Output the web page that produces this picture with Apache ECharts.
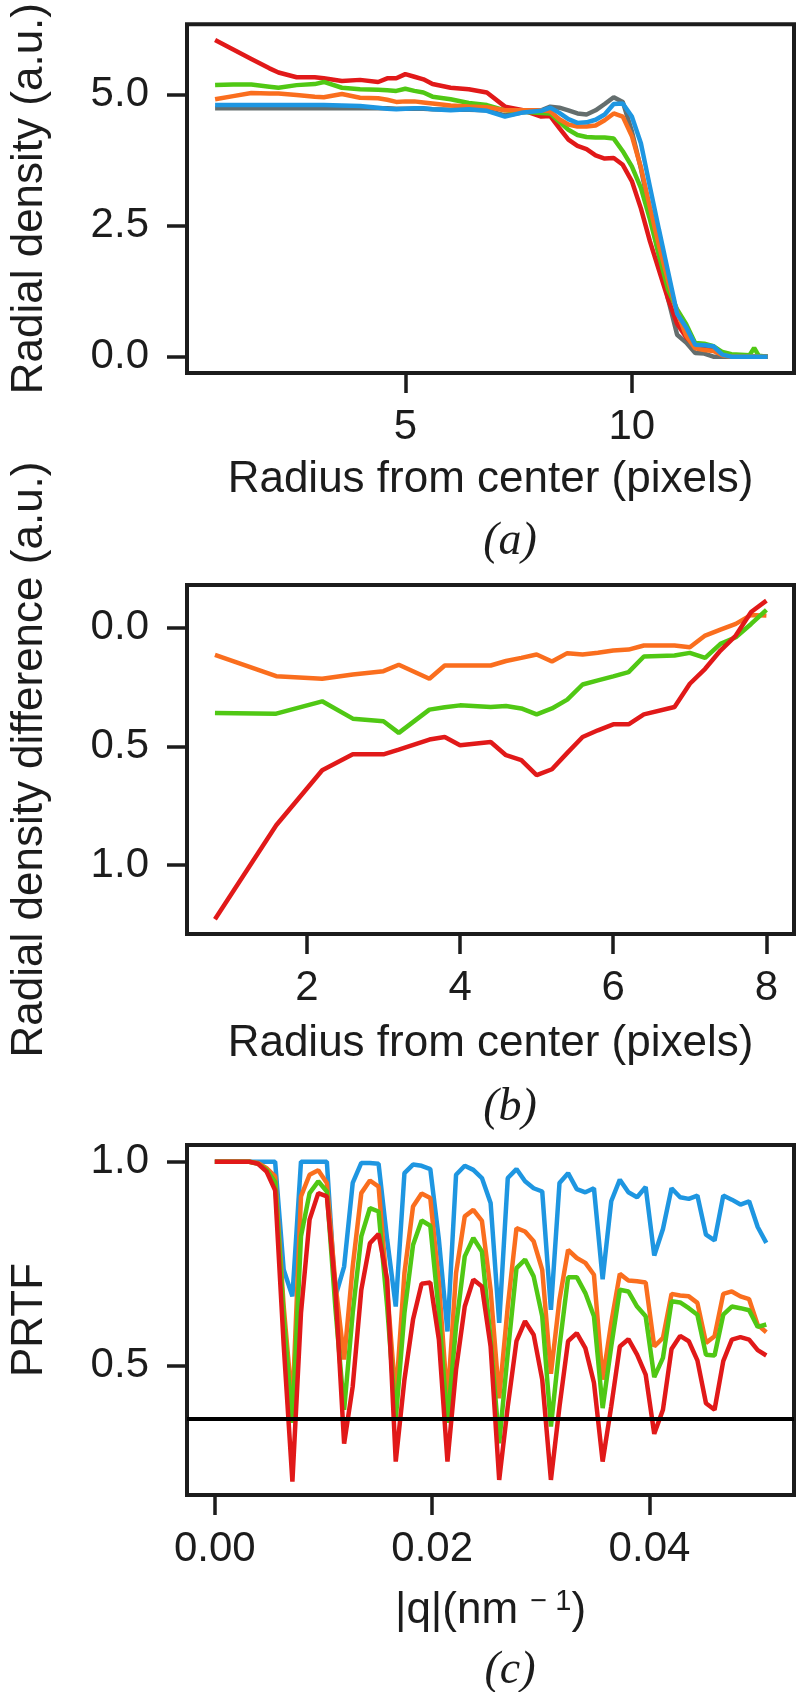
<!DOCTYPE html>
<html>
<head>
<meta charset="utf-8">
<script src="https://cdn.jsdelivr.net/npm/echarts@6/dist/echarts.min.js"></script>
<style>
html,body{margin:0;padding:0;background:#fff;}
#chart{width:798px;height:1692px;}
</style>
</head>
<body>
<div id="chart"></div>
<script>
// ---------- Panel (a): radial density ----------
const aX = [0.8,1.2,1.6,2.0,2.2,2.6,3.0,3.2,3.6,4.0,4.4,4.6,4.8,5.0,5.2,5.4,5.6,6.0,6.4,6.8,7.2,7.6,8.0,8.2,8.4,8.6,8.8,9.0,9.2,9.4,9.6,9.8,10.0,10.2,10.4,10.6,10.8,11.0,11.2,11.4,11.6,11.8,12.0,12.2,12.4,12.6,12.7,12.8,13.0];
const aGray   = [4.74,4.74,4.74,4.74,4.74,4.74,4.74,4.74,4.74,4.74,4.74,4.74,4.73,4.73,4.73,4.73,4.72,4.71,4.71,4.70,4.60,4.66,4.70,4.77,4.75,4.70,4.64,4.62,4.70,4.82,4.95,4.86,4.30,3.59,2.76,1.93,1.10,0.42,0.27,0.07,0.06,0.00,0.00,0.00,0.00,0.00,0.00,0.00,0.00];
const aOrange = [4.91,4.97,5.03,5.02,5.02,4.99,4.96,4.95,5.01,4.94,4.93,4.90,4.86,4.87,4.87,4.85,4.83,4.79,4.77,4.76,4.70,4.70,4.70,4.68,4.53,4.43,4.39,4.39,4.41,4.51,4.64,4.58,4.21,3.61,2.85,2.12,1.45,0.85,0.40,0.16,0.13,0.11,0.03,0.00,0.00,0.00,0.00,0.00,0.00];
const aGreen  = [5.18,5.19,5.19,5.15,5.13,5.18,5.20,5.24,5.13,5.10,5.09,5.08,5.07,5.11,5.07,5.04,4.96,4.91,4.84,4.80,4.70,4.67,4.65,4.64,4.48,4.33,4.23,4.19,4.18,4.18,4.16,3.92,3.63,3.22,2.62,1.93,1.28,0.90,0.62,0.26,0.25,0.20,0.09,0.05,0.04,0.03,0.17,0.02,0.00];
const aRed    = [6.04,5.86,5.68,5.50,5.42,5.33,5.33,5.31,5.26,5.28,5.24,5.31,5.31,5.39,5.34,5.29,5.20,5.13,5.10,5.04,4.77,4.70,4.58,4.59,4.36,4.14,4.02,3.96,3.84,3.78,3.79,3.66,3.35,2.83,2.20,1.65,1.10,0.63,0.37,0.21,0.19,0.17,0.05,0.00,0.00,0.00,0.00,0.00,0.00];
const aBlue   = [4.80,4.80,4.80,4.80,4.80,4.80,4.80,4.80,4.79,4.78,4.75,4.73,4.72,4.73,4.74,4.74,4.72,4.70,4.72,4.69,4.58,4.66,4.69,4.75,4.65,4.53,4.46,4.47,4.52,4.62,4.82,4.83,4.58,4.07,3.24,2.42,1.62,0.82,0.56,0.23,0.22,0.20,0.04,0.00,0.00,0.00,0.00,0.00,0.00];
const aXTicks = [5, 10];
const aYTicks = [0, 2.5, 5];

// ---------- Panel (b): radial density difference ----------
const bX = [0.8,1.6,2.2,2.6,3.0,3.2,3.6,3.8,4.0,4.4,4.6,4.8,5.0,5.2,5.4,5.6,5.8,6.0,6.2,6.4,6.8,7.0,7.2,7.4,7.6,7.8,8.0];
const bOrange = [0.114,0.204,0.215,0.197,0.183,0.156,0.215,0.159,0.159,0.159,0.140,0.127,0.113,0.142,0.107,0.113,0.105,0.096,0.092,0.075,0.075,0.082,0.033,0.008,-0.016,-0.054,-0.051];
const bGreen  = [0.359,0.362,0.310,0.383,0.394,0.443,0.345,0.335,0.327,0.334,0.330,0.340,0.365,0.340,0.303,0.239,0.222,0.205,0.187,0.121,0.117,0.106,0.127,0.068,0.040,-0.016,-0.075];
const bRed    = [1.228,0.832,0.600,0.533,0.533,0.513,0.471,0.460,0.495,0.481,0.537,0.558,0.621,0.596,0.527,0.460,0.432,0.407,0.407,0.365,0.334,0.236,0.173,0.096,0.033,-0.066,-0.114];
const bXTicks = [2, 4, 6, 8];
const bYTicks = [0, 0.5, 1.0];

// ---------- Panel (c): PRTF ----------
const cQ = [0,0.00079,0.00159,0.00238,0.00317,0.00397,0.00476,0.00555,0.00634,0.00714,0.00793,0.00872,0.00952,0.01031,0.0111,0.0119,0.01269,0.01348,0.01427,0.01507,0.01586,0.01665,0.01745,0.01824,0.01903,0.01983,0.02062,0.02141,0.0222,0.023,0.02379,0.02458,0.02538,0.02617,0.02696,0.02776,0.02855,0.02934,0.03013,0.03093,0.03172,0.03251,0.03331,0.0341,0.03489,0.03569,0.03648,0.03727,0.03806,0.03886,0.03965,0.04044,0.04124,0.04203,0.04282,0.04362,0.04441,0.0452,0.04599,0.04679,0.04758,0.04837,0.04917,0.04996,0.05075];
const cBlue   = [1,1,1,1,1,1,1,1,0.735,0.670,1,1,1,1,0.670,0.743,0.948,0.997,0.997,0.995,0.809,0.645,0.972,0.993,0.990,0.982,0.809,0.584,0.968,0.990,0.980,0.960,0.899,0.605,0.960,0.982,0.952,0.935,0.927,0.637,0.948,0.972,0.933,0.925,0.935,0.712,0.903,0.956,0.925,0.913,0.938,0.770,0.835,0.935,0.913,0.909,0.917,0.821,0.807,0.917,0.907,0.895,0.903,0.840,0.801];
const cOrange = [1,1,1,1,1,0.997,0.984,0.964,0.645,0.400,0.915,0.968,0.979,0.948,0.700,0.515,0.743,0.923,0.954,0.939,0.686,0.420,0.727,0.890,0.922,0.911,0.703,0.410,0.727,0.866,0.882,0.855,0.686,0.420,0.645,0.837,0.829,0.805,0.735,0.480,0.662,0.784,0.764,0.752,0.723,0.466,0.605,0.725,0.709,0.707,0.704,0.547,0.568,0.676,0.672,0.670,0.654,0.556,0.572,0.676,0.682,0.670,0.663,0.600,0.582];
const cGreen  = [1,1,1,1,1,0.995,0.980,0.950,0.620,0.360,0.817,0.923,0.952,0.927,0.640,0.392,0.629,0.817,0.886,0.878,0.645,0.368,0.629,0.796,0.856,0.843,0.629,0.360,0.596,0.768,0.813,0.780,0.564,0.310,0.531,0.739,0.760,0.719,0.621,0.351,0.547,0.717,0.717,0.678,0.621,0.396,0.547,0.686,0.682,0.645,0.621,0.472,0.519,0.658,0.655,0.641,0.625,0.527,0.525,0.625,0.645,0.641,0.636,0.595,0.601];
const cRed    = [1,1,1,1,1,0.995,0.976,0.930,0.550,0.216,0.629,0.858,0.923,0.915,0.686,0.309,0.449,0.686,0.800,0.823,0.711,0.265,0.466,0.613,0.701,0.704,0.564,0.265,0.490,0.645,0.711,0.694,0.547,0.220,0.400,0.560,0.609,0.576,0.466,0.220,0.400,0.560,0.580,0.543,0.458,0.265,0.400,0.547,0.565,0.527,0.478,0.333,0.392,0.541,0.573,0.560,0.513,0.408,0.392,0.511,0.564,0.570,0.564,0.538,0.525];
const cThreshold = 0.368;
const cXTicks = [0, 0.02, 0.04];
const cYTicks = [0.5, 1.0];

// ---------- styling ----------
const FONT = '"Liberation Sans", Arial, Helvetica, sans-serif';
const SERIF = 'italic 46px "Liberation Serif", "Times New Roman", serif';
const INK = '#1c1c1c';
const NAME_SIZE = 44;
const LINE_W = 4.5;
const COL = {gray:'#646e6e', blue:'#1e96e1', orange:'#fa6e1e', green:'#50c814', red:'#e11919'};
const zip = (xs, ys) => xs.map((x, i) => [x, ys[i]]);

function grid(top, height) {
  return {left:183, right:4, top:top, height:height, show:true,
          borderColor:INK, borderWidth:4, backgroundColor:'#fff', containLabel:false};
}
function axis(kind, gi, min, max, ticks, fmt, name, gap, extra) {
  const isX = kind === 'x';
  return Object.assign({
    type:'value', gridIndex:gi, min:min, max:max,
    splitLine:{show:false},
    axisLine:{show:false, onZero:false},
    axisTick:{show:true, inside:false, length:20, customValues:ticks,
              lineStyle:{color:INK, width:3.5}},
    axisLabel:{show:true, customValues:ticks, formatter:fmt, margin: isX ? 33 : 38,
               color:INK, fontSize:42, fontFamily:FONT},
    name:name, nameLocation:'middle', nameGap:gap,
    nameTextStyle:{color:INK, fontSize:NAME_SIZE, fontFamily:FONT}
  }, extra || {});
}
function line(name, xi, data, color) {
  return {name:name, type:'line', xAxisIndex:xi, yAxisIndex:xi, data:data,
          showSymbol:false, symbol:'none', animation:false,
          lineStyle:{color:color, width:LINE_W}, itemStyle:{color:color}};
}
function panelTag(text, y) {
  return {type:'text', style:{text:text, font:SERIF, fill:INK,
          textAlign:'center', textVerticalAlign:'middle', x:510, y:y}};
}

const f1 = v => v.toFixed(1);
const f2 = v => v.toFixed(2);
const f0 = v => String(v);

const cRedSeries = line('red', 2, zip(cQ, cRed), COL.red);
cRedSeries.markLine = {
  silent:true, symbol:['none','none'], label:{show:false}, z:10, animation:false,
  lineStyle:{color:'#000', width:4, type:'solid'},
  data:[{yAxis:cThreshold}]
};

const option = {
  backgroundColor:'#fff',
  animation:false,
  grid:[grid(23, 350), grid(585, 349), grid(1145, 350)],
  xAxis:[
    axis('x', 0, 0.18, 13.58, aXTicks, f0, 'Radius from center (pixels)', 85),
    axis('x', 1, 0.435, 8.36, bXTicks, f0, 'Radius from center (pixels)', 88),
    axis('x', 2, -0.00256, 0.0533, cXTicks, f2, '{n||q|(nm }{sup|− 1}{n|)}', 92, {
      nameTextStyle:{color:INK, fontSize:NAME_SIZE, fontFamily:FONT,
        rich:{n:{fontSize:NAME_SIZE, fontFamily:FONT, color:INK},
              sup:{fontSize:29, fontFamily:FONT, color:INK, verticalAlign:'top', padding:[0,0,18,0]}}}
    })
  ],
  yAxis:[
    axis('y', 0, -0.31, 6.34, aYTicks, f1, 'Radial density (a.u.)', 135),
    axis('y', 1, -0.18, 1.29, bYTicks, f1, 'Radial density difference (a.u.)', 135, {inverse:true}),
    axis('y', 2, 0.183, 1.041, cYTicks, f1, 'PRTF', 135)
  ],
  graphic:[
    panelTag('(a)', 542),
    panelTag('(b)', 1108),
    panelTag('(c)', 1671)
  ],
  series:[
    line('gray',   0, zip(aX, aGray),   COL.gray),
    line('red',    0, zip(aX, aRed),    COL.red),
    line('green',  0, zip(aX, aGreen),  COL.green),
    line('orange', 0, zip(aX, aOrange), COL.orange),
    line('blue',   0, zip(aX, aBlue),   COL.blue),
    line('orange', 1, zip(bX, bOrange), COL.orange),
    line('green',  1, zip(bX, bGreen),  COL.green),
    line('red',    1, zip(bX, bRed),    COL.red),
    line('blue',   2, zip(cQ, cBlue),   COL.blue),
    line('orange', 2, zip(cQ, cOrange), COL.orange),
    line('green',  2, zip(cQ, cGreen),  COL.green),
    cRedSeries
  ]
};

const chart = echarts.init(document.getElementById('chart'), null, {renderer:'canvas'});
chart.setOption(option);
</script>
</body>
</html>
